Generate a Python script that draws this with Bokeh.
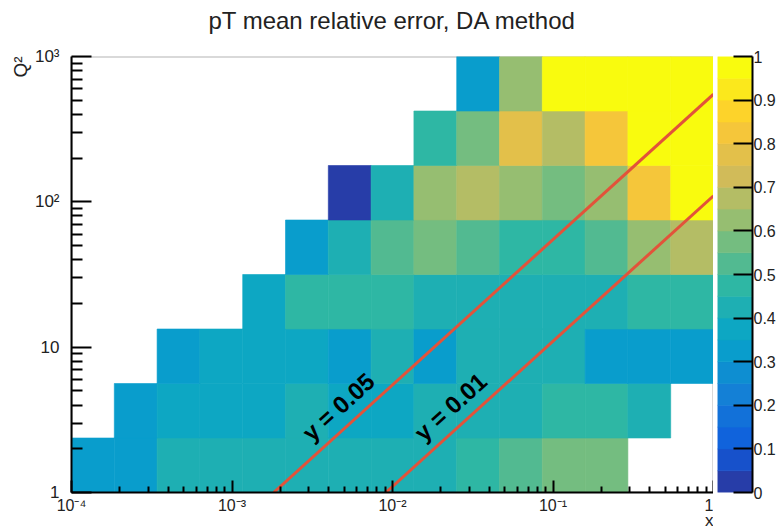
import math
import numpy as np
from bokeh.plotting import figure
from bokeh.layouts import row
from bokeh.models import (ColumnDataSource, LinearColorMapper, FixedTicker, Title,
                          NumeralTickFormatter, Range1d, BoxAnnotation, LinearAxis)
from bokeh.core.properties import value
from bokeh.transform import transform
from bokeh.embed import file_html
from bokeh.resources import INLINE

# ---------------- data ----------------
# binning: 15 log bins in x (1e-4 .. 1), 8 log bins in Q^2 (1 .. 1e3)
x_log_min, x_log_max, n_x_bins = -4.0, 0.0, 15
q2_log_min, q2_log_max, n_q2_bins = 0.0, 3.0, 8

nan = float("nan")
# mean relative pT error per cell, one list per Q^2 bin (bottom -> top), 15 x bins each
err_q2_bin0 = [0.35, 0.35, 0.41, 0.41, 0.41, 0.42, 0.42, 0.42, 0.42, 0.47, 0.52, 0.58, 0.58, nan, nan]
err_q2_bin1 = [nan, 0.32, 0.36, 0.36, 0.36, 0.41, 0.37, 0.39, 0.41, 0.41, 0.41, 0.47, 0.47, 0.41, nan]
err_q2_bin2 = [nan, nan, 0.32, 0.36, 0.36, 0.36, 0.35, 0.41, 0.34, 0.41, 0.41, 0.41, 0.34, 0.34, 0.34]
err_q2_bin3 = [nan, nan, nan, nan, 0.37, 0.47, 0.47, 0.47, 0.42, 0.42, 0.42, 0.42, 0.42, 0.47, 0.47]
err_q2_bin4 = [nan, nan, nan, nan, nan, 0.32, 0.44, 0.53, 0.57, 0.52, 0.45, 0.45, 0.53, 0.63, 0.67]
err_q2_bin5 = [nan, nan, nan, nan, nan, nan, 0.03, 0.43, 0.63, 0.70, 0.61, 0.57, 0.61, 0.81, 1.00]
err_q2_bin6 = [nan, nan, nan, nan, nan, nan, nan, nan, 0.47, 0.57, 0.78, 0.69, 0.82, 1.00, 1.00]
err_q2_bin7 = [nan, nan, nan, nan, nan, nan, nan, nan, nan, 0.32, 0.63, 1.00, 1.00, 1.00, 1.00]

# constant-inelasticity lines  Q^2 = s * x * y
beam_energies = (10.0, 275.0)          # electron / proton beam energies (GeV)
inelasticity = [0.05, 0.01]
inelasticity_text = ["y = 0.05", "y = 0.01"]
label_x_on_line = [4.6e-3, 2.3e-2]     # where the y labels sit along their lines

colorbar_ticks = [0.0, 0.1, 0.2, 0.3, 0.4, 0.5, 0.6, 0.7, 0.8, 0.9, 1.0]
x_tick_labels = {1e-4: "10\u207b\u2074", 1e-3: "10\u207b\u00b3", 1e-2: "10\u207b\u00b2",
                 1e-1: "10\u207b\u00b9", 1.0: "1"}
y_tick_labels = {1.0: "1", 10.0: "10", 100.0: "10\u00b2", 1000.0: "10\u00b3"}

# ---------------- palette (ROOT kBird, 20 contours) ----------------
stops = [0.0, 0.125, 0.25, 0.375, 0.5, 0.625, 0.75, 0.875, 1.0]
red = [0.2082, 0.0592, 0.0780, 0.0232, 0.1802, 0.5301, 0.8186, 0.9956, 0.9764]
green = [0.1664, 0.3599, 0.5041, 0.6419, 0.7178, 0.7492, 0.7328, 0.7862, 0.9832]
blue = [0.5293, 0.8684, 0.8385, 0.7914, 0.6425, 0.4662, 0.3499, 0.1968, 0.0539]
n_levels = 20
palette = []
for i in range(n_levels):
    idx = int((i + 0.99) * 255.0 / n_levels)
    t = idx / 254.0
    r = np.interp(t, stops, red)
    g = np.interp(t, stops, green)
    b = np.interp(t, stops, blue)
    palette.append("#%02x%02x%02x" % (int(round(r * 255)), int(round(g * 255)), int(round(b * 255))))

# ---------------- build cells ----------------
x_edges = 10 ** np.linspace(x_log_min, x_log_max, n_x_bins + 1)
q2_edges = 10 ** np.linspace(q2_log_min, q2_log_max, n_q2_bins + 1)
rows = [err_q2_bin0, err_q2_bin1, err_q2_bin2, err_q2_bin3,
        err_q2_bin4, err_q2_bin5, err_q2_bin6, err_q2_bin7]
cells = dict(left=[], right=[], bottom=[], top=[], val=[])
for j, rvals in enumerate(rows):
    for i, v in enumerate(rvals):
        if math.isnan(v):
            continue
        cells["left"].append(x_edges[i])
        cells["right"].append(x_edges[i + 1])
        cells["bottom"].append(q2_edges[j])
        cells["top"].append(q2_edges[j + 1])
        cells["val"].append(v)
src = ColumnDataSource(cells)

FONT = "Liberation Sans"
TXT = "#222222"
FW, FH = 642, 436

p = figure(title=None, frame_width=FW, frame_height=FH,
           x_axis_type="log", y_axis_type="log",
           x_range=Range1d(1e-4, 1.0), y_range=Range1d(1.0, 1e3),
           output_backend="svg", toolbar_location=None,
           min_border_left=71, min_border_top=56, min_border_bottom=39, min_border_right=0,
           background_fill_color="white", border_fill_color="white")
p.outline_line_color = None
p.xgrid.visible = False
p.ygrid.visible = False

# frame drawn underneath the cells (like ROOT)
p.add_layout(BoxAnnotation(fill_alpha=0, line_color="black", line_width=2, level="underlay"))

mapper = LinearColorMapper(palette=palette, low=0.0, high=1.0)
p.quad(left="left", right="right", bottom="bottom", top="top", source=src,
       fill_color=transform("val", mapper), line_color=transform("val", mapper), line_width=0.6)

# y = const lines
s_val = 4.0 * beam_energies[0] * beam_energies[1]
line_color = "#e2533a"
for yv in inelasticity:
    xs = [1.0 / (yv * s_val), 1.0]
    qs = [yv * s_val * xx for xx in xs]
    p.line(xs, qs, line_color=line_color, line_width=3)

# labels along the lines
px_per_dec_x = FW / 4.0
px_per_dec_y = FH / 3.0
ang = math.atan2(px_per_dec_y, px_per_dec_x)
lab_q2 = [yv * s_val * xx * 10 ** (27.0 / px_per_dec_y) for yv, xx in zip(inelasticity, label_x_on_line)]
p.text(x=label_x_on_line, y=lab_q2, text=inelasticity_text, angle=ang,
       text_font=value(FONT), text_font_style="bold", text_font_size="24px",
       text_align="center", text_baseline="middle", text_color="black")

# axes
for ax in (p.xaxis[0], p.yaxis[0]):
    ax.axis_line_color = "black"
    ax.axis_line_width = 2
    ax.major_tick_line_color = "black"
    ax.major_tick_line_width = 2
    ax.minor_tick_line_color = "black"
    ax.minor_tick_line_width = 2
    ax.major_tick_out = 0
    ax.minor_tick_out = 0
    ax.major_label_text_font = FONT
    ax.major_label_text_color = TXT

p.xaxis.ticker = FixedTicker(ticks=list(x_tick_labels.keys()),
                             minor_ticks=[m * 10.0 ** d for d in range(-4, 0) for m in range(2, 10)])
p.yaxis.ticker = FixedTicker(ticks=list(y_tick_labels.keys()),
                             minor_ticks=[m * 10.0 ** d for d in range(0, 3) for m in range(2, 10)])
p.xaxis.major_label_overrides = x_tick_labels
p.yaxis.major_label_overrides = y_tick_labels
p.xaxis.major_label_text_font_size = "16px"
p.yaxis.major_label_text_font_size = "17px"
p.xaxis.major_tick_in = 12
p.xaxis.minor_tick_in = 6
p.yaxis.major_tick_in = 20
p.yaxis.minor_tick_in = 11
p.xaxis.major_label_standoff = 4
p.yaxis.major_label_standoff = 12

# title: a blank spacer panel next to the frame, then the real title above it
p.add_layout(Title(text=" ", text_font=FONT, text_font_size="16px", standoff=4), "above")
p.add_layout(Title(text="pT mean relative error, DA method", align="center",
                   text_font=FONT, text_font_style="normal", text_font_size="24px",
                   text_color=TXT, standoff=0), "above")

# axis titles (ROOT style, aligned at the far ends)
p.add_layout(Title(text="Q\u00b2", align="right", text_font=FONT, text_font_size="19px",
                   text_font_style="normal", text_color=TXT, standoff=2), "left")
p.add_layout(Title(text="x", align="right", text_font=FONT, text_font_size="17px",
                   text_font_style="normal", text_color=TXT, standoff=-15), "below")

# ---------------- colour scale (palette axis) ----------------
band_lo = [k / n_levels for k in range(n_levels)]
band_hi = [(k + 1) / n_levels for k in range(n_levels)]
cb = figure(frame_width=35, frame_height=FH, x_range=Range1d(0, 1), y_range=Range1d(0, 1),
            x_axis_location=None, y_axis_location=None,
            output_backend="svg", toolbar_location=None,
            min_border_left=4, min_border_right=28, min_border_top=56, min_border_bottom=39,
            background_fill_color="white", border_fill_color="white")
cb.outline_line_color = None
cb.xgrid.visible = False
cb.ygrid.visible = False
cb.quad(left=0, right=1, bottom=band_lo, top=band_hi, fill_color=palette, line_color=palette,
        line_width=0.6)
cax = LinearAxis(ticker=FixedTicker(ticks=colorbar_ticks, minor_ticks=[]),
                 formatter=NumeralTickFormatter(format="0.[0]"))
cax.axis_line_color = "black"
cax.axis_line_width = 2
cax.major_tick_line_color = "black"
cax.major_tick_line_width = 2
cax.major_tick_in = 19
cax.major_tick_out = 0
cax.minor_tick_line_color = None
cax.major_label_standoff = 1
cax.major_label_text_font = FONT
cax.major_label_text_font_size = "16px"
cax.major_label_text_color = TXT
cb.add_layout(cax, "right")

layout = row(p, cb)
open("out.html", "w").write(file_html(layout, INLINE))
